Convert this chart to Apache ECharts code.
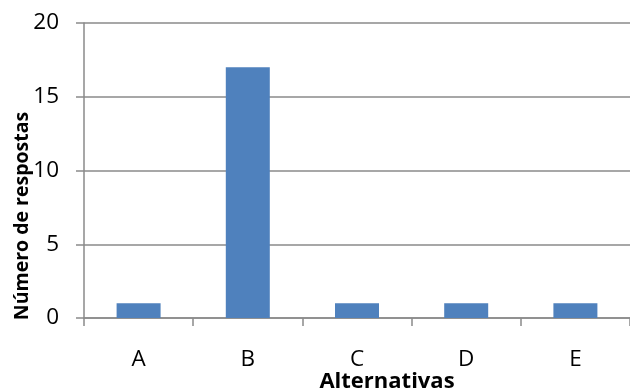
<!DOCTYPE html>
<html>
<head>
<meta charset="utf-8">
<script src="https://cdn.jsdelivr.net/npm/echarts@6/dist/echarts.min.js"></script>
<style>
  html, body { margin: 0; padding: 0; background: #fff; }
  #chart { width: 630px; height: 390px; }
</style>
</head>
<body>
<div id="chart"></div>
<script>
// Respostas por alternativa
const categories = ['A', 'B', 'C', 'D', 'E'];
const responses = [1, 17, 1, 1, 1];
const yTicks = [0, 5, 10, 15, 20];

const axisGray = '#8a8a8a';
const font = '"Open Sans", "Noto Sans", sans-serif';

const chart = echarts.init(document.getElementById('chart'), null, { renderer: 'canvas' });
chart.setOption({
  animation: false,
  backgroundColor: '#ffffff',
  grid: { left: 84, top: 23, width: 548.5, height: 295, containLabel: false },
  xAxis: {
    type: 'category',
    data: categories,
    axisLine: { lineStyle: { color: axisGray, width: 1.5 } },
    axisTick: { show: true, length: 8, lineStyle: { color: axisGray, width: 1.5 } },
    axisLabel: { color: '#000', fontFamily: font, fontSize: 22.5, margin: 30 }
  },
  yAxis: {
    type: 'value',
    min: yTicks[0],
    max: yTicks[yTicks.length - 1],
    interval: yTicks[1] - yTicks[0],
    axisLine: { show: true, lineStyle: { color: axisGray, width: 1.5 } },
    axisTick: { show: true, length: 8, lineStyle: { color: axisGray, width: 1.5 } },
    splitLine: { show: true, lineStyle: { color: axisGray, width: 1.5 } },
    axisLabel: { color: '#000', fontFamily: font, fontSize: 22.5, margin: 25 }
  },
  graphic: [
    {
      type: 'text',
      x: 22, y: 216,
      rotation: Math.PI / 2,
      style: {
        text: 'Número de respostas',
        fill: '#000',
        font: 'bold 19.5px ' + font,
        textAlign: 'center',
        textVerticalAlign: 'middle'
      }
    },
    {
      type: 'text',
      x: 387, y: 371,
      style: {
        text: 'Alternativas',
        fill: '#000',
        font: 'bold 22px ' + font,
        textAlign: 'center',
        textVerticalAlign: 'top'
      }
    }
  ],
  series: [{
    type: 'bar',
    data: responses,
    barWidth: 44,
    itemStyle: { color: '#4f81bd' }
  }]
});
</script>
</body>
</html>
